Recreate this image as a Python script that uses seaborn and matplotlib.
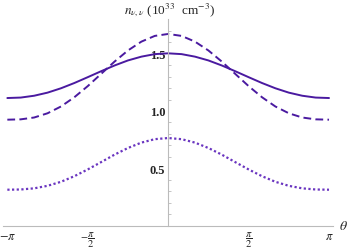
import numpy as np
import pandas as pd
import seaborn as sns
import matplotlib
matplotlib.use("Agg")
import matplotlib.pyplot as plt

# theta samples, step pi/12 from -pi to pi
theta = np.linspace(-np.pi, np.pi, 25)

# values (symmetric about theta = 0)
half_solid = [1.113, 1.117, 1.133, 1.160, 1.198, 1.244, 1.295, 1.347, 1.397, 1.441, 1.474, 1.496, 1.503]
half_dashed = [0.924, 0.927, 0.943, 0.980, 1.039, 1.120, 1.217, 1.324, 1.431, 1.528, 1.605, 1.655, 1.672]
half_dotted = [0.313, 0.315, 0.325, 0.347, 0.382, 0.431, 0.490, 0.554, 0.619, 0.677, 0.724, 0.754, 0.764]

solid = half_solid + half_solid[-2::-1]
dashed = half_dashed + half_dashed[-2::-1]
dotted = half_dotted + half_dotted[-2::-1]

xticks = [-np.pi, -np.pi / 2, np.pi / 2, np.pi]
xticklabels = [r"$-\pi$", r"$-\dfrac{\pi}{2}$", r"$\dfrac{\pi}{2}$", r"$\pi$"]
yticks = [0.5, 1.0, 1.5]
yticklabels = ["0.5", "1.0", "1.5"]

df = pd.DataFrame({"theta": theta, "solid": solid, "dashed": dashed, "dotted": dotted})

sns.set_style("white")
plt.rcParams["font.family"] = ["Liberation Serif", "DejaVu Serif"]
plt.rcParams["mathtext.fontset"] = "stix"

fig = plt.figure(figsize=(3.49, 2.51), dpi=100)
ax = fig.add_axes([0, 0, 1, 1])

sns.lineplot(data=df, x="theta", y="solid", ax=ax, color="#4a1aa0", lw=1.4)
sns.lineplot(data=df, x="theta", y="dashed", ax=ax, color="#4a1aa0", lw=1.4,
             linestyle=(0, (4, 2.2)))
sns.lineplot(data=df, x="theta", y="dotted", ax=ax, color="#6a35c0", lw=1.6,
             linestyle=(0, (1, 1.1)))

ax.set_xlim(-3.285, 3.532)
ax.set_ylim(-0.213, 1.977)

for s in ["top", "right"]:
    ax.spines[s].set_visible(False)
ax.spines["left"].set_position(("data", 0))
ax.spines["bottom"].set_position(("data", 0))
ax.spines["left"].set_bounds(0, 1.80)
ax.spines["bottom"].set_bounds(-3.22, 3.22)
for s in ["left", "bottom"]:
    ax.spines[s].set_color("#bbbbbb")
    ax.spines[s].set_linewidth(0.8)

ax.set_xticks(xticks)
ax.set_xticklabels(xticklabels, fontsize=9)
for lab in ax.get_xticklabels()[1:3]:
    lab.set_fontsize(7.5)
ax.set_yticks(yticks)
ax.set_yticklabels(yticklabels, fontsize=9, fontweight="bold")
ax.set_yticks(np.arange(0.1, 1.8, 0.1), minor=True)
ax.tick_params(axis="x", direction="inout", length=4, color="#bbbbbb", pad=1)
ax.tick_params(axis="y", which="major", direction="in", length=4, color="#bbbbbb", pad=2)
ax.tick_params(axis="y", which="minor", direction="in", length=2, color="#bbbbbb", left=True)
ax.set_xlabel("")
ax.set_ylabel("")

ax.text(3.33, 0.0, r"$\theta$", fontsize=10, ha="left", va="center")
ax.text(0.02, 1.89, r"$n_{\nu,\nu}$ (10$^{33}$  cm$^{-3}$)", fontsize=9.5, ha="center", va="center")

fig.savefig("out.png", dpi=100)
